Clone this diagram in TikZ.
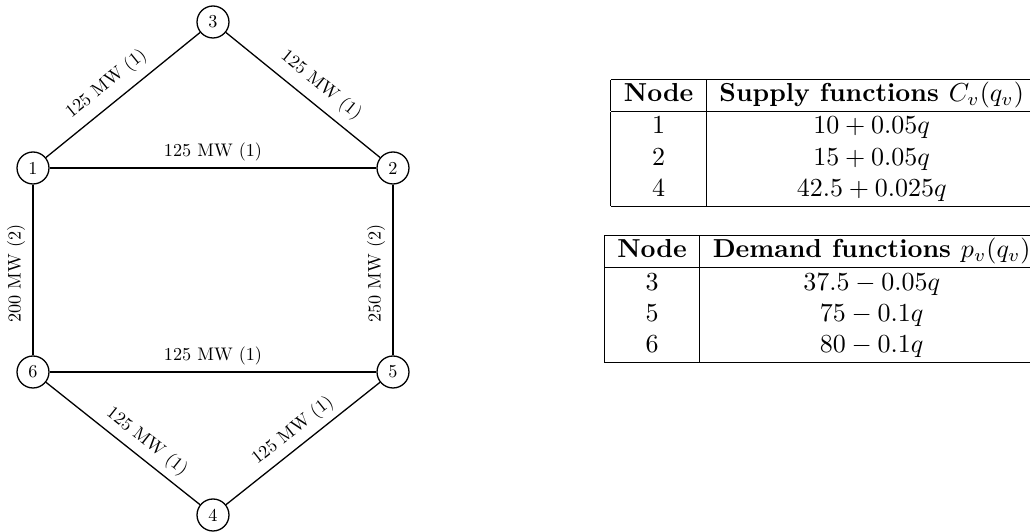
\documentclass[tikz,border=0pt]{standalone}
\usepackage{graphicx}
\usetikzlibrary{positioning}
\newcommand{\gl}[1]{\scalebox{0.7}{#1}}
\setlength{\tabcolsep}{5pt}
\begin{document}
\begin{tikzpicture}[x=0.3846pt, y=0.3846pt,
  vert/.style={circle, draw, line width=0.5pt, minimum size=12.3pt, inner sep=0pt},
  edge/.style={line width=0.5pt},
  lab/.style={inner sep=2.5pt},
  vlab/.style={inner sep=2.8pt, rotate=90, anchor=south},
  tbl/.style={inner sep=0pt, outer sep=0pt}]
\useasboundingbox (0,0) rectangle (1030,532);
% graph nodes
\node[vert] (n3) at (213,510) {\gl{3}};
\node[vert] (n1) at (33,364) {\gl{1}};
\node[vert] (n2) at (393,364) {\gl{2}};
\node[vert] (n6) at (33,160) {\gl{6}};
\node[vert] (n5) at (393,160) {\gl{5}};
\node[vert] (n4) at (213,17) {\gl{4}};
% edges
\draw[edge] (n1) -- node[lab, sloped, above=1pt, pos=0.47] {\gl{125 MW (1)}} (n3);
\draw[edge] (n3) -- node[lab, sloped, above=1pt, pos=0.54] {\gl{125 MW (1)}} (n2);
\draw[edge] (n1) -- node[lab, above, midway] {\gl{125 MW (1)}} (n2);
\draw[edge] (n1) -- node[vlab, pos=0.52] {\gl{200 MW (2)}} (n6);
\draw[edge] (n2) -- node[vlab, pos=0.52] {\gl{250 MW (2)}} (n5);
\draw[edge] (n6) -- node[lab, above, midway] {\gl{125 MW (1)}} (n5);
\draw[edge] (n6) -- node[lab, sloped, above, pos=0.59] {\gl{125 MW (1)}} (n4);
\draw[edge] (n4) -- node[lab, sloped, above, pos=0.5] {\gl{125 MW (1)}} (n5);
% tables
\node[tbl, anchor=north west] (t2) at (604.3,297) {%
\begin{tabular}{|c|c|}\hline
\textbf{Node} & \textbf{Demand functions $p_v(q_v)$}\\\hline
3 & $37.5-0.05q$\\
5 & $75-0.1q$\\
6 & $80-0.1q$\\\hline
\end{tabular}};
\node[tbl, above=10.9pt of t2] (t1) {%
\begin{tabular}{|c|c|}\hline
\textbf{Node} & \textbf{Supply functions $C_v(q_v)$}\\\hline
1 & $10+0.05q$\\
2 & $15+0.05q$\\
4 & $42.5+0.025q$\\\hline
\end{tabular}};
\end{tikzpicture}
\end{document}
